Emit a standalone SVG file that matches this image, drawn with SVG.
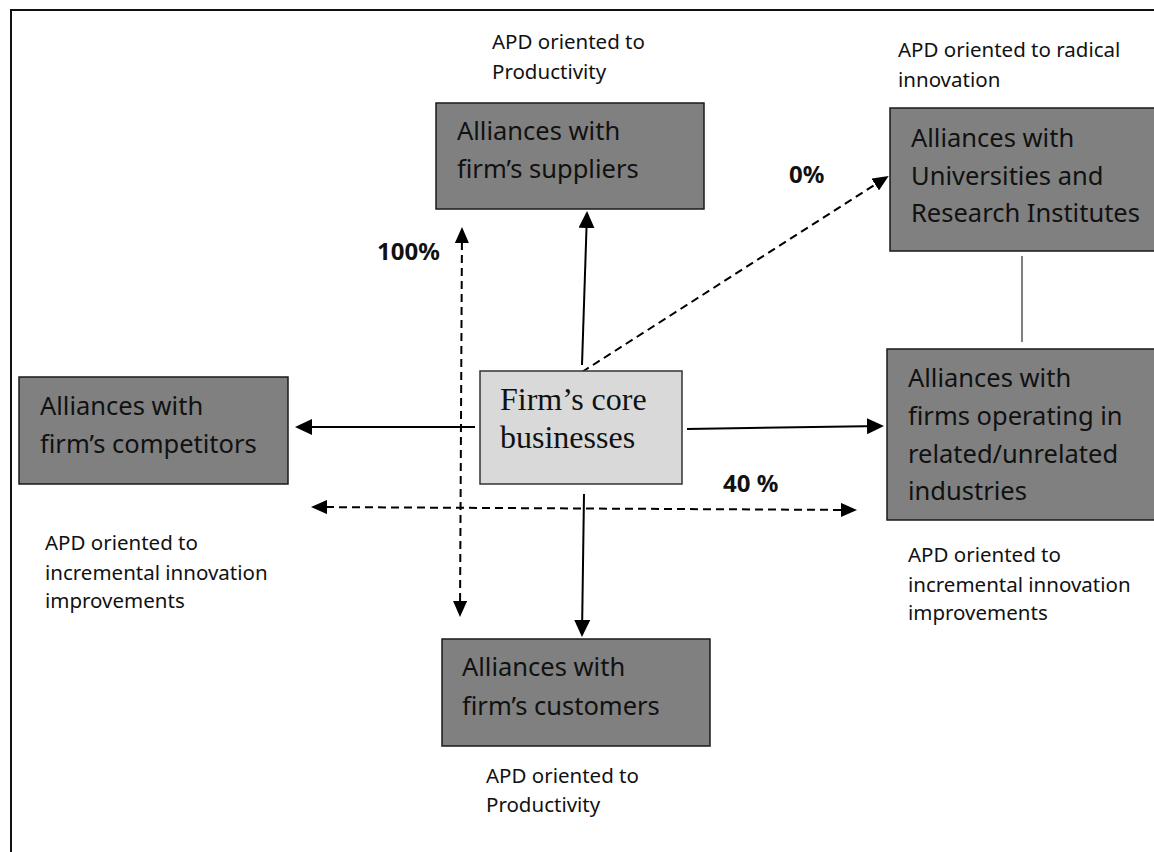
<svg xmlns="http://www.w3.org/2000/svg" width="1154" height="852" viewBox="0 0 1154 852">
<style>
.box{fill:#808080;stroke:#1a1a1a;stroke-width:1.5}
.core{fill:#d9d9d9;stroke:#333;stroke-width:1.5}
.bt{font-family:"Noto Sans","Open Sans",sans-serif;font-size:25.5px;fill:#111}
.ct{font-family:"Liberation Serif",serif;font-size:32px;fill:#111}
.lb{font-family:"Noto Sans","Open Sans",sans-serif;font-size:20.5px;fill:#111}
.pc{font-family:"Noto Sans","Open Sans",sans-serif;font-size:24px;font-weight:bold;fill:#111}
.sl{stroke:#000;stroke-width:2;fill:none}
.dl{stroke:#000;stroke-width:2;fill:none;stroke-dasharray:8 5}
</style>
<defs>
<marker id="ah" markerUnits="userSpaceOnUse" markerWidth="17" markerHeight="16" refX="15" refY="8" orient="auto-start-reverse">
<path d="M0,0 L17,8 L0,16 z" fill="#000"/>
</marker>
<marker id="ahd" markerUnits="userSpaceOnUse" markerWidth="16" markerHeight="14" refX="14" refY="7" orient="auto-start-reverse">
<path d="M0,0 L16,7 L0,14 z" fill="#000"/>
</marker>
</defs>
<rect width="1154" height="852" fill="#fff"/>
<path d="M11,852 V10 H1154" fill="none" stroke="#111" stroke-width="2"/>

<g id="connectors">
<line class="sl" x1="582" y1="365" x2="587" y2="213" marker-end="url(#ah)"/>
<line class="dl" x1="582" y1="372" x2="887" y2="177" marker-end="url(#ahd)"/>
<line class="sl" x1="475" y1="427" x2="297" y2="427" marker-end="url(#ah)"/>
<line class="sl" x1="687" y1="429" x2="882" y2="426" marker-end="url(#ah)"/>
<line class="sl" x1="584" y1="494" x2="582" y2="635" marker-end="url(#ah)"/>
<line class="dl" x1="462" y1="229" x2="460" y2="615" marker-start="url(#ahd)" marker-end="url(#ahd)"/>
<line class="dl" x1="313" y1="507" x2="855" y2="510" marker-start="url(#ahd)" marker-end="url(#ahd)"/>
<line x1="1022" y1="256" x2="1022" y2="342" stroke="#000" stroke-width="1"/>
</g>

<g id="core">
<rect class="core" x="480" y="371" width="202" height="113"/>
<text class="ct" x="500" y="410">Firm’s core</text>
<text class="ct" x="500" y="448">businesses</text>
</g>

<g id="suppliers">
<rect class="box" x="436" y="103" width="268" height="106"/>
<text class="bt" x="457" y="140">Alliances with</text>
<text class="bt" x="457" y="178">firm’s suppliers</text>
</g>

<g id="universities">
<rect class="box" x="890" y="108" width="280" height="143"/>
<text class="bt" x="911" y="147">Alliances with</text>
<text class="bt" x="911" y="185">Universities and</text>
<text class="bt" x="911" y="222">Research Institutes</text>
</g>

<g id="competitors">
<rect class="box" x="19" y="377" width="269" height="107"/>
<text class="bt" x="40" y="415">Alliances with</text>
<text class="bt" x="40" y="453">firm’s competitors</text>
</g>

<g id="related">
<rect class="box" x="887" y="349" width="280" height="171"/>
<text class="bt" x="908" y="387">Alliances with</text>
<text class="bt" x="908" y="425">firms operating in</text>
<text class="bt" x="908" y="463">related/unrelated</text>
<text class="bt" x="908" y="500">industries</text>
</g>

<g id="customers">
<rect class="box" x="442" y="639" width="268" height="107"/>
<text class="bt" x="462" y="676">Alliances with</text>
<text class="bt" x="462" y="715">firm’s customers</text>
</g>

<g id="labels">
<text class="lb" x="492" y="49">APD oriented to</text>
<text class="lb" x="492" y="79">Productivity</text>
<text class="lb" x="898" y="57">APD oriented to radical</text>
<text class="lb" x="898" y="87">innovation</text>
<text class="lb" x="45" y="550">APD oriented to</text>
<text class="lb" x="45" y="580">incremental innovation</text>
<text class="lb" x="45" y="608">improvements</text>
<text class="lb" x="908" y="562">APD oriented to</text>
<text class="lb" x="908" y="592">incremental innovation</text>
<text class="lb" x="908" y="620">improvements</text>
<text class="lb" x="486" y="783">APD oriented to</text>
<text class="lb" x="486" y="812">Productivity</text>
<text class="pc" x="377" y="260">100%</text>
<text class="pc" x="789" y="183">0%</text>
<text class="pc" x="723" y="492">40 %</text>
</g>
</svg>
